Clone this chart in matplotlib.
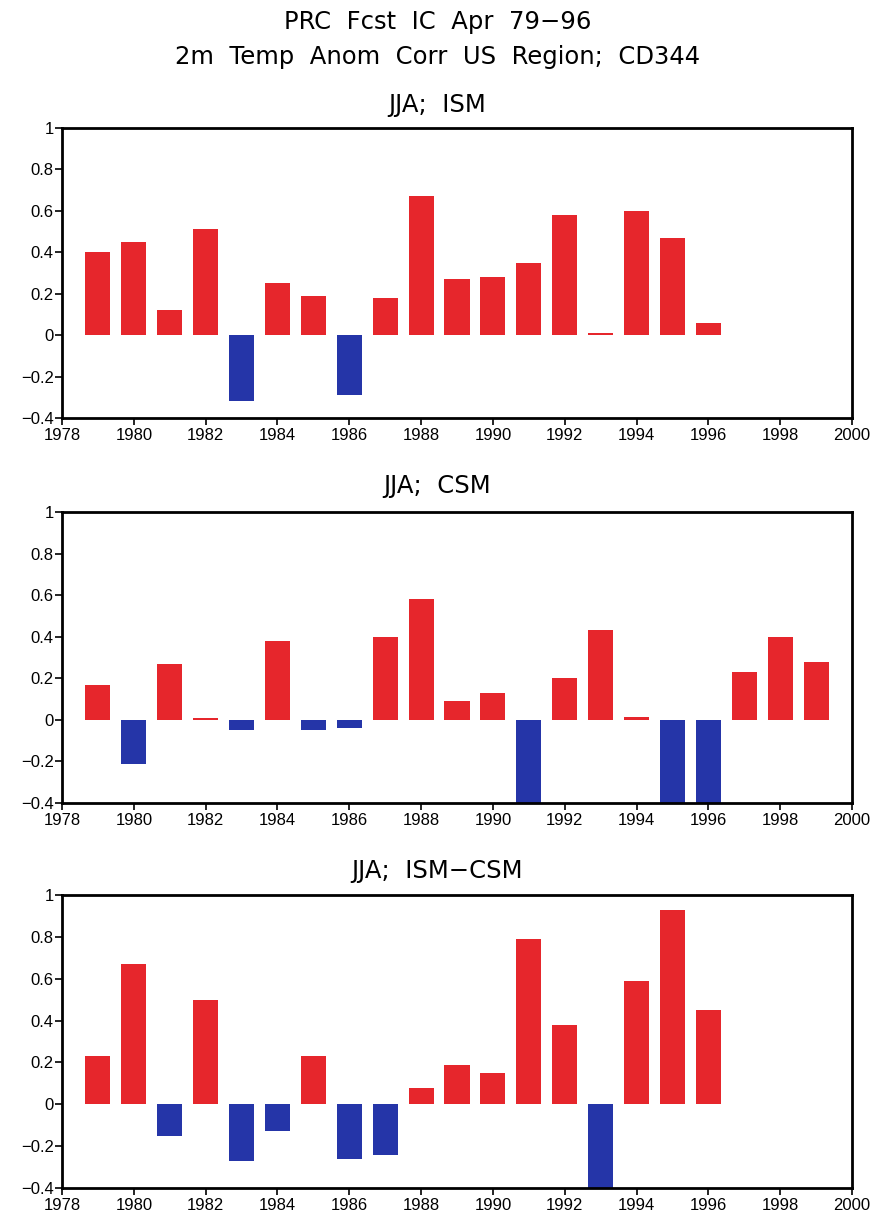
import matplotlib.pyplot as plt
import numpy as np

plt.rcParams['font.family'] = ['Liberation Sans', 'DejaVu Sans']

# anomaly correlations
years_ism = list(range(1979, 1997))
ism = [0.40, 0.45, 0.12, 0.51, -0.32, 0.25, 0.19, -0.29, 0.18, 0.67,
       0.27, 0.28, 0.35, 0.58, 0.01, 0.60, 0.47, 0.06]

years_csm = list(range(1979, 2000))
csm = [0.17, -0.21, 0.27, 0.01, -0.05, 0.38, -0.05, -0.04, 0.40, 0.58,
       0.09, 0.13, -0.45, 0.20, 0.43, 0.015, -0.45, -0.45, 0.23, 0.40, 0.28]

years_diff = list(range(1979, 1997))
diff = [0.23, 0.67, -0.15, 0.50, -0.27, -0.13, 0.23, -0.26, -0.24, 0.08,
        0.19, 0.15, 0.79, 0.38, -0.45, 0.59, 0.93, 0.45]

panel_titles = ['JJA;  ISM', 'JJA;  CSM', 'JJA;  ISM\u2212CSM']
yticks = [-0.4, -0.2, 0, 0.2, 0.4, 0.6, 0.8, 1]
ytick_labels = ['\u22120.4', '\u22120.2', '0', '0.2', '0.4', '0.6', '0.8', '1']
xticks = list(range(1978, 2001, 2))

RED = '#e6262c'
BLUE = '#2535a8'
TITLE_FONT = ['DejaVu Sans']

fig = plt.figure(figsize=(8.75, 12.11), dpi=100)
fig.text(0.5, 1 - 29 / 1211, 'PRC  Fcst  IC  Apr  79\u221296', ha='center', va='baseline',
         fontsize=17.5, family=TITLE_FONT)
fig.text(0.5, 1 - 64 / 1211, '2m  Temp  Anom  Corr  US  Region;  CD344', ha='center', va='baseline',
         fontsize=17.5, family=TITLE_FONT)

# axes boxes in pixels: (top, bottom)
boxes = [(128, 418), (512, 803), (895, 1188)]
title_base = [112, 493, 878]
series = [(years_ism, ism), (years_csm, csm), (years_diff, diff)]

for (top, bot), ty, (yrs, vals), title in zip(boxes, title_base, series, panel_titles):
    ax = fig.add_axes([62 / 875, 1 - bot / 1211, 790 / 875, (bot - top) / 1211])
    vals = np.array(vals)
    colors = [RED if v >= 0 else BLUE for v in vals]
    ax.bar(yrs, vals, width=0.7, color=colors)
    ax.set_xlim(1978, 2000)
    ax.set_ylim(-0.4, 1)
    ax.set_xticks(xticks)
    ax.set_yticks(yticks)
    ax.set_yticklabels(ytick_labels)
    ax.tick_params(axis='both', labelsize=12, length=5, width=1.2, direction='out')
    ax.tick_params(axis='x', pad=2)
    ax.tick_params(axis='y', pad=1)
    for s in ax.spines.values():
        s.set_linewidth(2)
    fig.text(0.5, 1 - ty / 1211, title, ha='center', va='baseline', fontsize=17.5, family=TITLE_FONT)

plt.savefig('out.png', dpi=100)
plt.close()
